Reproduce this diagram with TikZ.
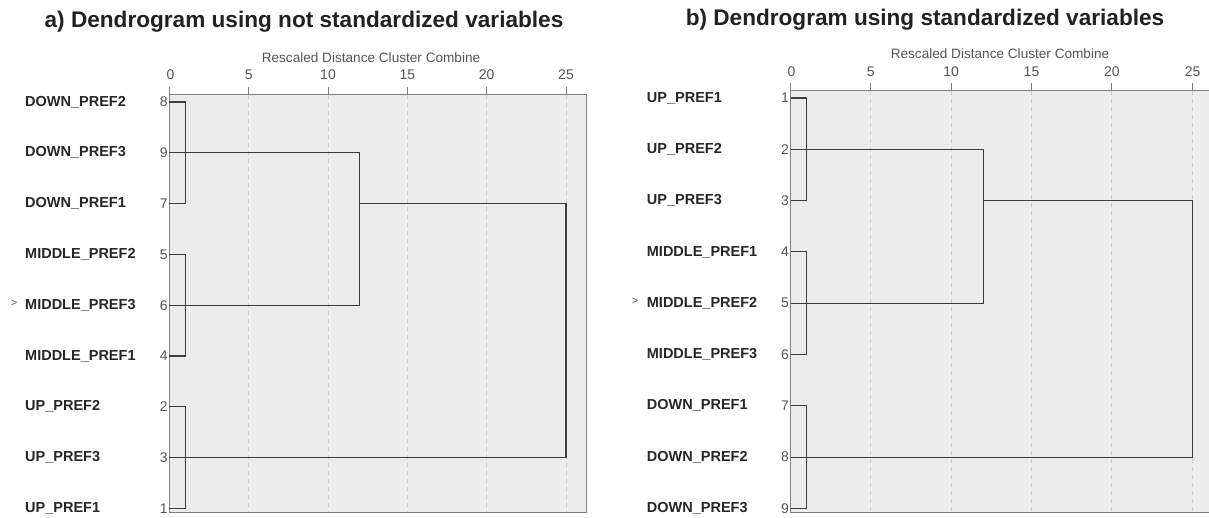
\documentclass[tikz,border=0pt]{standalone}
\usepackage{fontspec}
\setmainfont{Liberation Sans}
\definecolor{panelfill}{HTML}{ECECEC}
\definecolor{framegray}{HTML}{808080}
\definecolor{gridgray}{HTML}{CACACA}
\definecolor{numgray}{HTML}{555555}
\definecolor{treegray}{HTML}{3C3C3C}
\tikzset{
  title/.style={font=\bfseries\fontsize{22.6}{26}\selectfont, text=black!87},
  axistitle/.style={font=\fontsize{13.6}{16}\selectfont, text=numgray},
  ticklabel/.style={font=\fontsize{14}{16}\selectfont, text=numgray},
  rowlabel/.style={anchor=west, font=\bfseries\fontsize{14.5}{17}\selectfont, text=black!85},
  rownum/.style={anchor=east, font=\fontsize{14}{16}\selectfont, text=numgray},
  marker/.style={font=\fontsize{11}{12}\selectfont, text=numgray},
  frame/.style={draw=framegray, line width=1pt},
  grid/.style={draw=gridgray, dash pattern=on 4pt off 4pt, line width=0.9pt},
  tree/.style={draw=treegray, line width=1.15pt}
}
\begin{document}
\begin{tikzpicture}[x=1pt,y=-1pt]
        \tikzstyle{every node}+=[inner sep=0pt]
        \useasboundingbox (0,0) rectangle (1209,518);
        % a) not standardized
        \fill [panelfill] (169.3,95) rectangle (586.7,512);
        \draw [grid] (248.7,95) -- (248.7,512) (328.0,95) -- (328.0,512) (407.4,95) -- (407.4,512)
                     (486.7,95) -- (486.7,512) (566.0,95) -- (566.0,512);
        \draw [frame] (169.3,95) rectangle (586.7,512);
        \draw [frame] (169.3,87) -- (169.3,95) (248.7,87) -- (248.7,95) (328.0,87) -- (328.0,95)
                      (407.4,87) -- (407.4,95) (486.7,87) -- (486.7,95) (566.0,87) -- (566.0,95);
        \node [title] (titlea) at (304,22) {a) Dendrogram using not standardized variables};
        \node [axistitle] (axisa) at (371,58) {Rescaled Distance Cluster Combine};
        \node [ticklabel] (ta0) at (170.5,75) {0};
        \node [ticklabel] (ta5) at (248.7,75) {5};
        \node [ticklabel] (ta10) at (328.0,75) {10};
        \node [ticklabel] (ta15) at (407.4,75) {15};
        \node [ticklabel] (ta20) at (486.7,75) {20};
        \node [ticklabel] (ta25) at (566.0,75) {25};
        \node [rowlabel] (down2a) at (25,102.0) {DOWN\_PREF2};
        \node [rowlabel] (down3a) at (25,152.8) {DOWN\_PREF3};
        \node [rowlabel] (down1a) at (25,203.6) {DOWN\_PREF1};
        \node [rowlabel] (mid2a) at (25,254.4) {MIDDLE\_PREF2};
        \node [rowlabel] (mid3a) at (25,305.2) {MIDDLE\_PREF3};
        \node [rowlabel] (mid1a) at (25,356.0) {MIDDLE\_PREF1};
        \node [rowlabel] (up2a) at (25,406.8) {UP\_PREF2};
        \node [rowlabel] (up3a) at (25,457.6) {UP\_PREF3};
        \node [rowlabel] (up1a) at (25,508.4) {UP\_PREF1};
        \node [marker] (marka) at (14,303.5) {>};
        \node [rownum] (n8a) at (167.8,102.0) {8};
        \node [rownum] (n9a) at (167.8,152.8) {9};
        \node [rownum] (n7a) at (167.8,203.6) {7};
        \node [rownum] (n5a) at (167.8,254.4) {5};
        \node [rownum] (n6a) at (167.8,305.2) {6};
        \node [rownum] (n4a) at (167.8,356.0) {4};
        \node [rownum] (n2a) at (167.8,406.8) {2};
        \node [rownum] (n3a) at (167.8,457.6) {3};
        \node [rownum] (n1a) at (167.8,508.4) {1};
        \draw [tree] (169.3,102.0) -| (185.2,203.6) -- (169.3,203.6);
        \draw [tree] (169.3,254.4) -| (185.2,356.0) -- (169.3,356.0);
        \draw [tree] (169.3,406.8) -| (185.2,508.4) -- (169.3,508.4);
        \draw [tree] (169.3,152.8) -| (359.7,305.2) -- (169.3,305.2);
        \draw [tree] (359.7,203.6) -| (566.0,457.6) -- (169.3,457.6);
        % b) standardized
        \fill [panelfill] (790.7,91) rectangle (1209,512.7);
        \draw [grid] (870.7,91) -- (870.7,512.7) (951.1,91) -- (951.1,512.7) (1031.5,91) -- (1031.5,512.7)
                     (1111.9,91) -- (1111.9,512.7) (1192.7,91) -- (1192.7,512.7);
        \draw [frame] (1209,91) -- (790.7,91) -- (790.7,512.7) -- (1209,512.7);
        \draw [frame] (790.7,83) -- (790.7,91) (870.7,83) -- (870.7,91) (951.1,83) -- (951.1,91)
                      (1031.5,83) -- (1031.5,91) (1111.9,83) -- (1111.9,91) (1192.7,83) -- (1192.7,91);
        \node [title] (titleb) at (925,20) {b) Dendrogram using standardized variables};
        \node [axistitle] (axisb) at (1000,54) {Rescaled Distance Cluster Combine};
        \node [ticklabel] (tb0) at (791.5,72) {0};
        \node [ticklabel] (tb5) at (870.7,72) {5};
        \node [ticklabel] (tb10) at (951.1,72) {10};
        \node [ticklabel] (tb15) at (1031.5,72) {15};
        \node [ticklabel] (tb20) at (1111.9,72) {20};
        \node [ticklabel] (tb25) at (1192.7,72) {25};
        \node [rowlabel] (up1b) at (646.7,98.0) {UP\_PREF1};
        \node [rowlabel] (up2b) at (646.7,149.3) {UP\_PREF2};
        \node [rowlabel] (up3b) at (646.7,200.6) {UP\_PREF3};
        \node [rowlabel] (mid1b) at (646.7,251.9) {MIDDLE\_PREF1};
        \node [rowlabel] (mid2b) at (646.7,303.2) {MIDDLE\_PREF2};
        \node [rowlabel] (mid3b) at (646.7,354.5) {MIDDLE\_PREF3};
        \node [rowlabel] (down1b) at (646.7,405.8) {DOWN\_PREF1};
        \node [rowlabel] (down2b) at (646.7,457.1) {DOWN\_PREF2};
        \node [rowlabel] (down3b) at (646.7,508.4) {DOWN\_PREF3};
        \node [marker] (markb) at (635,301.5) {>};
        \node [rownum] (n1b) at (789.2,98.0) {1};
        \node [rownum] (n2b) at (789.2,149.3) {2};
        \node [rownum] (n3b) at (789.2,200.6) {3};
        \node [rownum] (n4b) at (789.2,251.9) {4};
        \node [rownum] (n5b) at (789.2,303.2) {5};
        \node [rownum] (n6b) at (789.2,354.5) {6};
        \node [rownum] (n7b) at (789.2,405.8) {7};
        \node [rownum] (n8b) at (789.2,457.1) {8};
        \node [rownum] (n9b) at (789.2,508.4) {9};
        \draw [tree] (790.7,98.0) -| (806.8,200.6) -- (790.7,200.6);
        \draw [tree] (790.7,251.9) -| (806.8,354.5) -- (790.7,354.5);
        \draw [tree] (790.7,405.8) -| (806.8,508.4) -- (790.7,508.4);
        \draw [tree] (790.7,149.3) -| (983.7,303.2) -- (790.7,303.2);
        \draw [tree] (983.7,200.6) -| (1192.7,457.1) -- (790.7,457.1);
        \end{tikzpicture}
\end{document}
